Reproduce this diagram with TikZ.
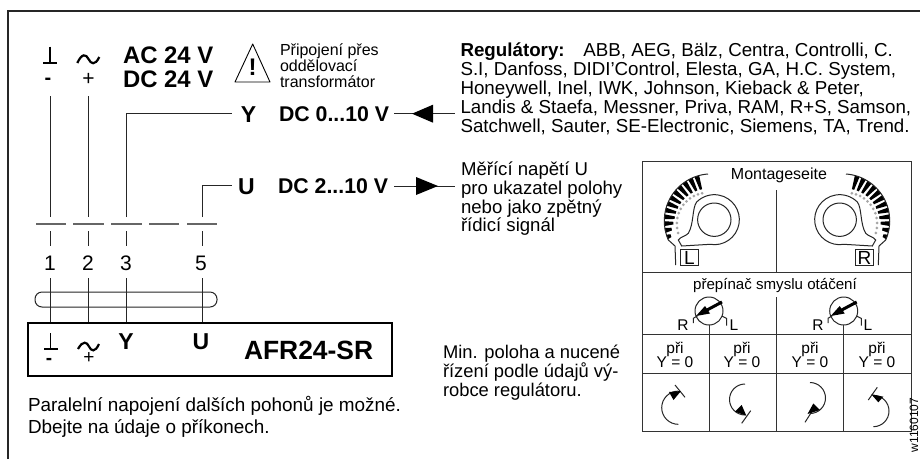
\documentclass[tikz,border=0pt]{standalone}
\usepackage{fontspec}
\setmainfont{Liberation Sans}
\tikzset{
  ln/.style={line width=1pt,black!85},
  bar/.style={line width=1.5pt,black!60},
  frm/.style={line width=1.4pt,black!85},
  cell/.style={line width=1pt,black!80},
  txt/.style={inner sep=0pt,outer sep=0pt,anchor=west,align=left},
  ctr/.style={inner sep=0pt,outer sep=0pt,anchor=center,align=center},
  body/.style={txt,font=\fontsize{18.6}{18.7}\selectfont},
  small/.style={txt,font=\fontsize{16}{16}\selectfont},
  cellt/.style={ctr,font=\fontsize{15.5}{14.5}\selectfont},
  big/.style={txt,font=\fontsize{23.9}{24.5}\selectfont\bfseries},
  mid/.style={txt,font=\fontsize{21.3}{24}\selectfont\bfseries},
  sym/.style={ctr,font=\fontsize{23}{24}\selectfont\bfseries},
  num/.style={ctr,font=\fontsize{21}{22}\selectfont},
  blk/.style={fill=black,draw=none},
}
\newcommand{\dialshape}{%
  \foreach \a in {160,168.4,...,255}{%
    \pgfmathsetmacro{\ri}{\a>180 ? 33+(254-\a)*0.05 : 36.7+(180-\a)*0.3}
    \fill[black] ($(711,221)+(\a-3:47)$) -- ($(711,221)+(\a+3:47)$) -- ($(711,221)+(\a+2:\ri)$) -- ($(711,221)+(\a-2:\ri)$) -- cycle;
    \pgfmathsetmacro{\rg}{\a>190 ? 29+(254-\a)*0.07 : 33.5+(190-\a)*0.05}
    \fill[black!35] ($(711,221)+(\a:\rg)$) circle[radius=1.5];
  }
  \draw[ln] (708,174) arc[start angle=266,end angle=156,radius=47] -- (675,246) -- (675.7,265);
  \draw[ln] (714.3,219.7) circle[radius=16.7];
  \draw[ln] (681.7,246) -- (710,244.3) arc[start angle=100,end angle=-135,radius=25]
     .. controls (692,208) and (694,224) .. (688.3,233.3) .. controls (686,236) and (680,237) .. (678.3,240) -- cycle;
  \draw[ln] (680.7,249.3) rectangle (698.3,265);
}
\newcommand{\switchshape}{%
  \draw[ln] (709,311) circle[radius=14];
  \draw[line width=3pt,black] (707,310) -- (722,302);
  \fill[black] (696,316) -- (705,306) -- (710,313.5) -- cycle;
  \draw[ln] (697.7,315.7) -- (693.3,318.3) -- (693.3,323);
  \draw[ln] (721.7,316) -- (726.7,318.5) -- (726.7,325.5);
  \draw[cell] (709,325) -- (709,431);
}
\usetikzlibrary{calc}
\begin{document}
\begin{tikzpicture}[x=1pt,y=-1pt]
\useasboundingbox (0,0) rectangle (920,459);
\fill[white] (0,0) rectangle (920,459);
% frame
\coordinate (fbl) at (8,459);
\coordinate (ftl) at (8,11);
\coordinate (ftr) at (920,11);
\draw[frm] (fbl) -- (ftl) -- (ftr);

% wires, upper
\coordinate (t1) at (50.5,96);
\coordinate (t2) at (88.5,96);
\coordinate (b1) at (50.5,217);
\coordinate (b2) at (88.5,217);
\coordinate (b3) at (126.5,217);
\coordinate (b5) at (202,217);
\coordinate (yel) at (126.5,113.5);
\coordinate (yen) at (232,113.5);
\coordinate (uel) at (202,185.5);
\coordinate (uen) at (232,185.5);
\draw[ln] (t1) -- (b1);
\draw[ln] (t2) -- (b2);
\draw[ln] (b3) -- (yel) -- (yen);
\draw[ln] (b5) -- (uel) -- (uen);
% breaks
\foreach \a/\b in {36/66,73/104,111/142,149/179,187/217}{\draw[bar] (\a,224) -- (\b,224);}
\foreach \x in {50.5,88.5,126.5,202}{\draw[ln] (\x,231) -- (\x,246);}
\node[num] (n1) at (50,263) {1};
\node[num] (n2) at (88,263) {2};
\node[num] (n3) at (126,263) {3};
\node[num] (n5) at (201,263) {5};
% AFR box
\node[draw=black,line width=2pt,minimum width=364pt,minimum height=53pt,inner sep=0pt,anchor=north west] (afr) at (27,322) {};
\foreach \x/\n in {50.5/n1,88.5/n2,126.5/n3,202/n5}{\draw[ln] (\x,278) -- (\x,322);}
\draw[ln,rounded corners=7pt] (35,292) rectangle (217,307);

\node[font=\fontsize{26.4}{28}\selectfont\bfseries,txt] (model) at (244,350) {AFR24-SR};
\node[sym] (yb) at (126,342) {Y};
\node[sym] (ub) at (201,342) {U};
% box symbols
\draw[line width=1.3pt,black] (50.5,333) -- (50.5,349) (44,349) -- (58,349);
\node[ctr,font=\fontsize{19}{18}\selectfont\bfseries] (mb) at (49,361) {-};
\draw[line width=2.2pt,black] (78,349) .. controls (83,340) and (87,342) .. (89,346.5) .. controls (91,351) and (95,353) .. (99,344);
\node[ctr,font=\fontsize{19}{18}\selectfont] (pb) at (89,358) {+};

% top symbols
\draw[line width=1.2pt,black] (50,46.5) -- (50,63) (43,63) -- (57,63);
\node[ctr,font=\fontsize{20}{18}\selectfont\bfseries] (m) at (48,81.5) {-};
\draw[line width=2.2pt,black] (77.3,63) .. controls (82,53) and (86,54) .. (88.5,59) .. controls (91,64) and (95,66) .. (99.3,57);
\node[ctr,font=\fontsize{21}{20}\selectfont] (p) at (88.5,79.5) {+};
\node[big] (ac) at (123,55) {AC 24 V};
\node[big] (dc) at (123,79.5) {DC 24 V};

% warning
\coordinate (wa) at (252.7,44);
\coordinate (wl) at (235,82);
\coordinate (wr) at (270,82);
\draw[line width=0.9pt,black,line join=round] (wa) -- (wl) -- (wr) -- cycle;
\node[ctr,font=\fontsize{24}{24}\selectfont\bfseries] (ex) at (252.7,67) {!};
\node[small] (wt) at (280,66) {Připojení přes\\oddělovací\\transformátor};

% Y and U lines
\node[sym] (y) at (248.5,115) {Y};
\node[mid] (dy) at (279,114.5) {DC 0...10 V};
\coordinate (ya) at (394,113.7);
\coordinate (yb2) at (455,113.7);
\draw[ln] (ya) -- (yb2);
\fill[black] (412,113.7) -- (433,104.7) -- (433,122.7) -- cycle;
\node[sym] (u) at (246.5,186.5) {U};
\node[mid] (du) at (278,186) {DC 2...10 V};
\coordinate (ua) at (394,186);
\coordinate (ub2) at (455,186);
\draw[ln] (ua) -- (ub2);
\fill[black] (438,186) -- (416,177) -- (416,195) -- cycle;

% texts
\node[body,font=\fontsize{18.75}{19}\selectfont] (reg) at (460.5,89) {\textbf{Regulátory:}\hspace{1em}ABB, AEG, Bälz, Centra, Controlli, C.\\S.I, Danfoss, DIDI'Control, Elesta, GA, H.C. System,\\Honeywell, Inel, IWK, Johnson, Kieback \& Peter,\\Landis \& Staefa, Messner, Priva, RAM, R+S, Samson,\\Satchwell, Sauter, SE-Electronic, Siemens, TA, Trend.};
\node[body] (mer) at (461,199) {Měřící napětí U\\pro ukazatel polohy\\nebo jako zpětný\\řídicí signál};
\node[body,font=\fontsize{18.35}{18.9}\selectfont] (min) at (443,373) {Min. poloha a nucené\\řízení podle údajů vý-\\robce regulátoru.};
\node[body,font=\fontsize{18.9}{21.5}\selectfont] (par) at (28,417) {Paralelní napojení dalších pohonů je možné.\\Dbejte na údaje o příkonech.};

% table
\draw[cell] (642,161) rectangle (911,431);
\draw[cell] (642,272.5) -- (911,272.5);
\draw[cell] (642,334) -- (911,334);
\draw[cell] (642,373) -- (911,373);
\draw[cell] (776,190) -- (776,272.5);
\draw[cell] (776,297) -- (776,431);
\node[ctr,font=\fontsize{16}{16}\selectfont] (mont) at (779,175) {Montageseite};
\dialshape
\begin{scope}[xshift=1554pt,xscale=-1]
\dialshape
\end{scope}
\node[ctr,font=\fontsize{19}{16}\selectfont] (ll) at (689.5,257.5) {L};
\node[ctr,font=\fontsize{19}{16}\selectfont] (rr) at (864.5,257.5) {R};
\node[ctr,font=\fontsize{15.1}{16}\selectfont] (prep) at (775,285) {přepínač smyslu otáčení};
\switchshape
\begin{scope}[xshift=134.7pt]
\switchshape
\end{scope}
\node[ctr,font=\fontsize{15.5}{16}\selectfont] (r1) at (683,325) {R};
\node[ctr,font=\fontsize{15.5}{16}\selectfont] (l1) at (734,325) {L};
\node[ctr,font=\fontsize{15.5}{16}\selectfont] (r2) at (818,325) {R};
\node[ctr,font=\fontsize{15.5}{16}\selectfont] (l2) at (868,325) {L};
\foreach \x in {675,742,810,877}{\node[cellt] at (\x,355) {při\\Y = 0};}

% rotation marks
\draw[ln] (678.3,424.3) arc[start angle=90,end angle=270,radius=16.6];
\draw[ln] (675,385) -- (685,397.3);
\fill[black] (681,391) -- (669,392) -- (673.5,400) -- cycle;

\draw[ln] (745,384) arc[start angle=270,end angle=90,radius=15.5];
\draw[ln] (750.7,410.7) -- (741.7,423.3);
\fill[black] (746.3,415.7) -- (735,411.7) -- (741.7,405) -- cycle;

\draw[ln] (810,382.5) arc[start angle=-90,end angle=90,radius=15.5];
\draw[ln] (813.3,409.3) -- (805,422.3);
\fill[black] (807.5,414) -- (820,410) -- (813.3,403.5) -- cycle;

\draw[ln] (873.3,426.7) arc[start angle=90,end angle=-90,radius=15.7];
\draw[ln] (868.3,400) -- (877.3,387.3);
\fill[black] (871.3,394.3) -- (883.3,396.7) -- (878.3,402.3) -- cycle;

\node[ctr,rotate=90,font=\fontsize{12}{12}\selectfont] (code) at (914,425) {w1160107};
\end{tikzpicture}
\end{document}
